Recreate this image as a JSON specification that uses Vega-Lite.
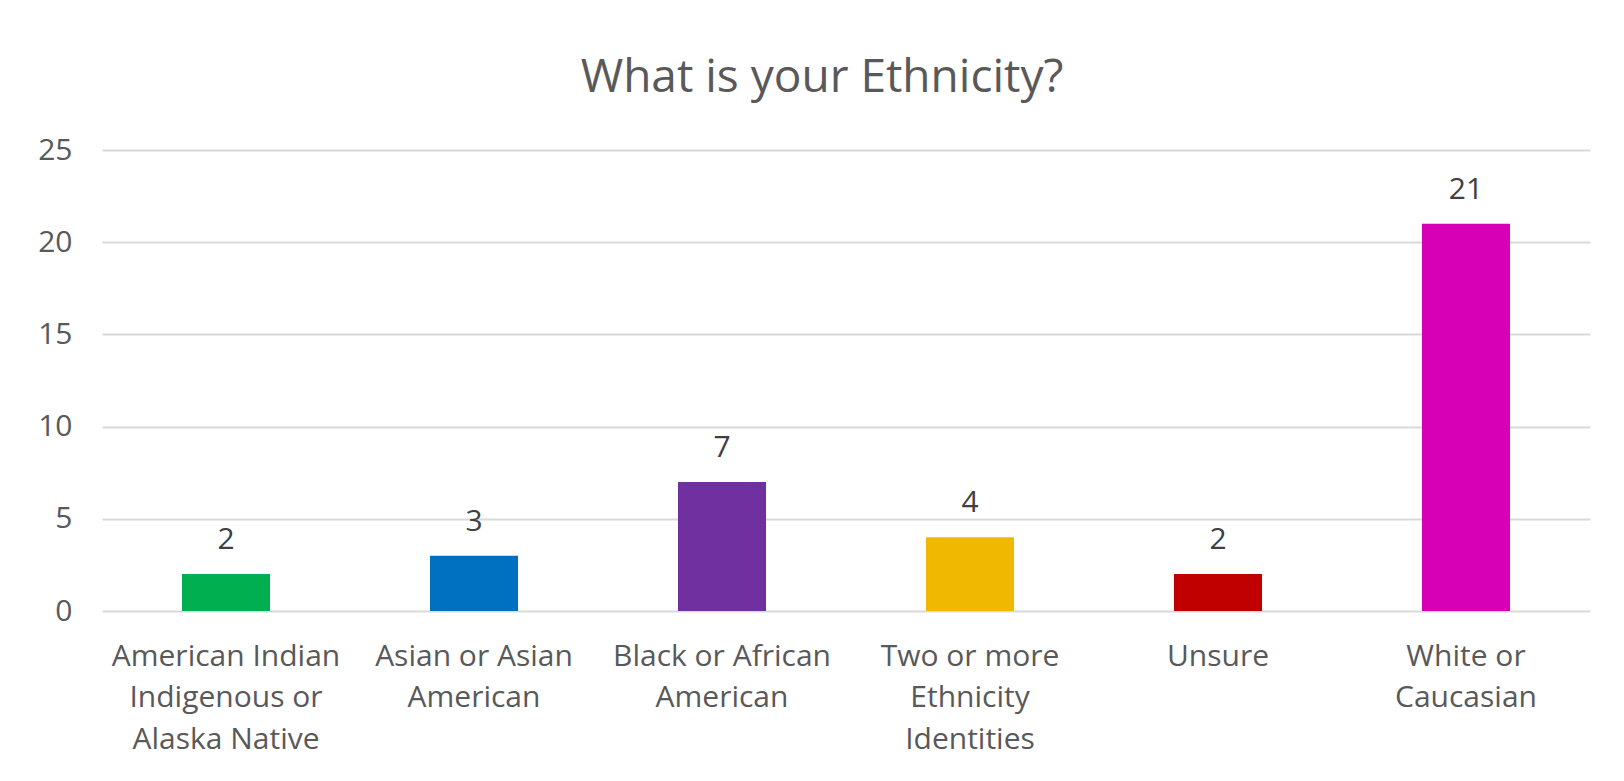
{
  "$schema": "https://vega.github.io/schema/vega-lite/v6.json",
  "width": 1488,
  "height": 461,
  "autosize": {"type": "none"},
  "padding": {"left": 102, "top": 150, "right": 34, "bottom": 170},
  "background": "white",
  "config": {"view": {"stroke": null}, "font": "Open Sans"},
  "title": {
    "text": "What is your Ethnicity?",
    "fontSize": 46,
    "font": "Open Sans",
    "fontWeight": "normal",
    "color": "#595959",
    "anchor": "middle",
    "frame": "group",
    "dx": -24,
    "baseline": "alphabetic",
    "offset": -3
  },
  "data": {
    "values": [
      {"ethnicity": "American Indian Indigenous or Alaska Native", "count": 2, "color": "#00b050"},
      {"ethnicity": "Asian or Asian American", "count": 3, "color": "#0070c0"},
      {"ethnicity": "Black or African American", "count": 7, "color": "#7030a0"},
      {"ethnicity": "Two or more Ethnicity Identities", "count": 4, "color": "#f0b800"},
      {"ethnicity": "Unsure", "count": 2, "color": "#c00000"},
      {"ethnicity": "White or Caucasian", "count": 21, "color": "#d800b6"}
    ]
  },
  "encoding": {
    "x": {
      "field": "ethnicity",
      "type": "nominal",
      "sort": null,
      "scale": {"paddingInner": 0, "paddingOuter": 0},
      "axis": {
        "title": null,
        "domain": false,
        "ticks": false,
        "labelAngle": 0,
        "labelFontSize": 30,
        "labelColor": "#595959",
        "labelPadding": 45,
        "labelLineHeight": 41.5,
        "labelBaseline": "middle",
        "labelLimit": 0,
        "labelExpr": "datum.value == 'American Indian Indigenous or Alaska Native' ? ['American Indian', 'Indigenous or', 'Alaska Native'] : datum.value == 'Asian or Asian American' ? ['Asian or Asian', 'American'] : datum.value == 'Black or African American' ? ['Black or African', 'American'] : datum.value == 'Two or more Ethnicity Identities' ? ['Two or more', 'Ethnicity', 'Identities'] : datum.value == 'White or Caucasian' ? ['White or', 'Caucasian'] : datum.value"
      }
    },
    "y": {
      "field": "count",
      "type": "quantitative",
      "scale": {"domain": [0, 25], "nice": false},
      "axis": {
        "title": null,
        "values": [0, 5, 10, 15, 20, 25],
        "domain": false,
        "ticks": false,
        "grid": true,
        "gridColor": "#d9d9d9",
        "gridWidth": 2,
        "labelFontSize": 30,
        "labelColor": "#595959",
        "labelPadding": 30
      }
    }
  },
  "layer": [
    {
      "mark": {"type": "bar", "width": {"band": 0.355}},
      "encoding": {
        "color": {"field": "color", "type": "nominal", "scale": null, "legend": null}
      }
    },
    {
      "mark": {"type": "text", "baseline": "alphabetic", "dy": -25, "fontSize": 30, "color": "#404040", "font": "Open Sans"},
      "encoding": {"text": {"field": "count", "type": "quantitative"}}
    }
  ]
}
